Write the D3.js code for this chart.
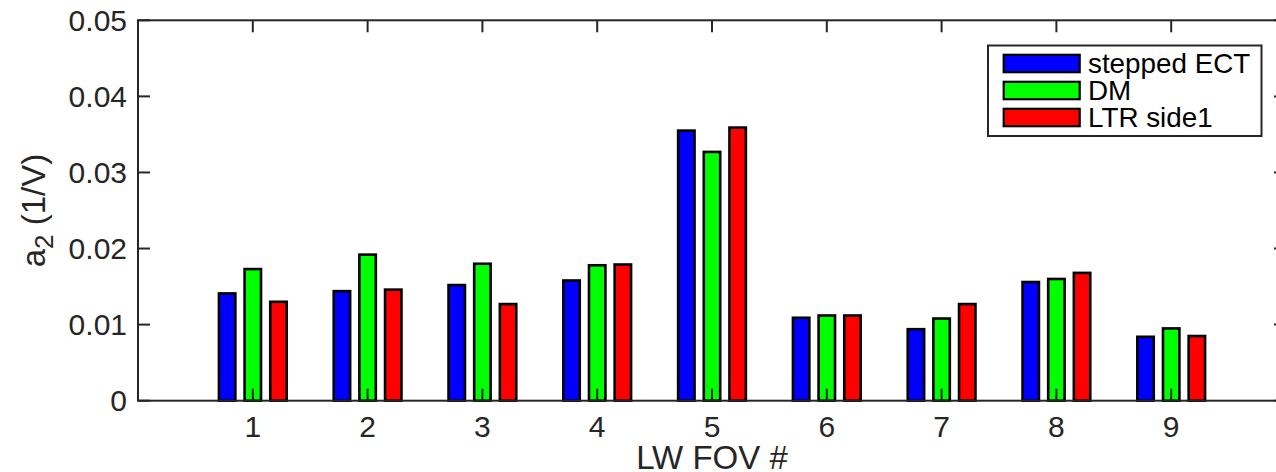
<!DOCTYPE html>
<html>
<head>
<meta charset="utf-8">
<script src="https://cdn.jsdelivr.net/npm/d3@7"></script>
<style>
  html, body { margin: 0; padding: 0; background: #fff; }
  svg { display: block; font-family: "Liberation Sans", Arial, Helvetica, sans-serif; }
</style>
</head>
<body>
<svg id="chart" width="1276" height="472"></svg>
<script>
// Field-of-view indices along the x axis
const categories = [1, 2, 3, 4, 5, 6, 7, 8, 9];

// a2 coefficient (1/V) per field of view, one array per method
const steppedECT = [0.0141, 0.0144, 0.0152, 0.0158, 0.0355, 0.0109, 0.0094, 0.0156, 0.0084];
const dm         = [0.0173, 0.0192, 0.0180, 0.0178, 0.0327, 0.0112, 0.0108, 0.0160, 0.0095];
const ltrSide1   = [0.0130, 0.0146, 0.0127, 0.0179, 0.0359, 0.0112, 0.0127, 0.0168, 0.0085];

const seriesNames = ["stepped ECT", "DM", "LTR side1"];
const seriesColors = ["#0000ff", "#00ff00", "#ff0000"];
const seriesValues = [steppedECT, dm, ltrSide1];

const yTicks = [0, 0.01, 0.02, 0.03, 0.04, 0.05];
const yTickLabels = ["0", "0.01", "0.02", "0.03", "0.04", "0.05"];

const svg = d3.select("#chart");
const axisColor = "#262626";

// Plot box (the right edge runs past the page width)
const plotL = 138, plotR = 1286, plotT = 20.3, plotB = 400.7;

const x = d3.scaleLinear().domain([0, 10]).range([plotL, plotR]);
const y = d3.scaleLinear().domain([0, 0.05]).range([plotB, plotT]);

// Offsets of the three bars inside a group, in x-axis units
const slot = 0.2235;
const barW = 0.143;
const offset = d3.scaleLinear().domain([0, 2]).range([-slot, slot]);

// Bars
const bars = svg.append("g");
seriesValues.forEach((vals, si) => {
  bars.selectAll(null)
    .data(vals)
    .enter()
    .append("rect")
    .attr("x", (d, i) => x(categories[i] + offset(si) - barW / 2))
    .attr("width", x(barW) - x(0))
    .attr("y", d => y(d))
    .attr("height", d => y(0) - y(d))
    .attr("fill", seriesColors[si])
    .attr("stroke", "#000")
    .attr("stroke-width", 2.6);
});

// Box axes with inward ticks on all four sides
const tickLen = 12;
const ax = svg.append("g").attr("stroke", axisColor).attr("stroke-width", 2).attr("fill", "none");
ax.append("rect")
  .attr("x", plotL).attr("y", plotT)
  .attr("width", plotR - plotL).attr("height", plotB - plotT);

ax.selectAll(null).data(categories).enter().append("line")
  .attr("x1", d => x(d)).attr("x2", d => x(d))
  .attr("y1", plotT).attr("y2", plotT + tickLen);
ax.selectAll(null).data(categories).enter().append("line")
  .attr("x1", d => x(d)).attr("x2", d => x(d))
  .attr("y1", plotB).attr("y2", plotB - tickLen);
ax.selectAll(null).data(yTicks).enter().append("line")
  .attr("x1", plotL).attr("x2", plotL + tickLen)
  .attr("y1", d => y(d)).attr("y2", d => y(d));
ax.selectAll(null).data(yTicks).enter().append("line")
  .attr("x1", plotR).attr("x2", plotR - tickLen)
  .attr("y1", d => y(d)).attr("y2", d => y(d));

// Tick labels
const tickFont = 30;
svg.append("g").selectAll("text").data(yTicks).enter().append("text")
  .attr("x", plotL - 11)
  .attr("y", d => y(d) + tickFont * 0.355)
  .attr("text-anchor", "end")
  .attr("font-size", tickFont)
  .attr("fill", axisColor)
  .text((d, i) => yTickLabels[i]);

svg.append("g").selectAll("text").data(categories).enter().append("text")
  .attr("x", d => x(d))
  .attr("y", 437)
  .attr("text-anchor", "middle")
  .attr("font-size", tickFont)
  .attr("fill", axisColor)
  .text(d => d);

// Axis titles
svg.append("text")
  .attr("x", (plotL + plotR) / 2)
  .attr("y", 469)
  .attr("text-anchor", "middle")
  .attr("font-size", 33)
  .attr("fill", axisColor)
  .text("LW FOV #");

const yl = svg.append("text")
  .attr("transform", `translate(45, ${(plotT + plotB) / 2}) rotate(-90)`)
  .attr("text-anchor", "middle")
  .attr("font-size", 33)
  .attr("fill", axisColor);
yl.append("tspan").text("a");
yl.append("tspan").attr("font-size", 26).attr("dy", 8).text("2");
yl.append("tspan").attr("dy", -8).text(" (1/V)");

// Legend
const lg = svg.append("g");
lg.append("rect")
  .attr("x", 988).attr("y", 45.5)
  .attr("width", 273.5).attr("height", 90.5)
  .attr("fill", "#fff")
  .attr("stroke", axisColor)
  .attr("stroke-width", 2);
const rowY = [63.5, 90.5, 117.5];
seriesNames.forEach((name, i) => {
  lg.append("rect")
    .attr("x", 1003.7).attr("y", rowY[i] - 8.7)
    .attr("width", 76).attr("height", 17.4)
    .attr("fill", seriesColors[i])
    .attr("stroke", "#000")
    .attr("stroke-width", 2.2);
  lg.append("text")
    .attr("x", 1088)
    .attr("y", rowY[i] + 9.6)
    .attr("font-size", 27.8)
    .attr("fill", "#000")
    .text(name);
});
</script>
</body>
</html>
